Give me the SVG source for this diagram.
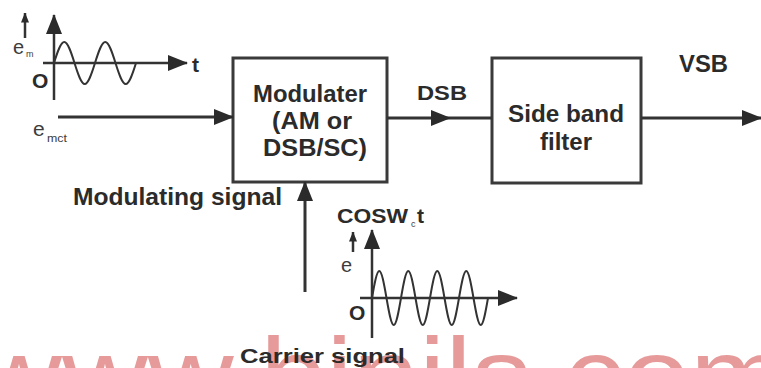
<svg xmlns="http://www.w3.org/2000/svg" width="761" height="368" viewBox="0 0 761 368">
<style>
.bx{fill:none;stroke:#3a3a3a;stroke-width:3}
.ln{fill:none;stroke:#333;stroke-width:3}
.ax{fill:none;stroke:#333;stroke-width:2.5}
.wv{fill:none;stroke:#333;stroke-width:2}
.t{font-family:"Liberation Sans",Arial,sans-serif;font-weight:bold;fill:#2b2b2b}
.n{font-family:"Liberation Sans",Arial,sans-serif;fill:#3c3c3c}
.wm{font-family:"Liberation Sans",Arial,sans-serif;fill:#e69a9a}
</style>
<defs>
<marker id="ah" viewBox="0 0 20 16" refX="19" refY="8" markerWidth="20" markerHeight="16" orient="auto" markerUnits="userSpaceOnUse"><path d="M0 0L20 8L0 16z" fill="#2b2b2b"/></marker>
<marker id="as" viewBox="0 0 10 8" refX="9.5" refY="4" markerWidth="10" markerHeight="8" orient="auto" markerUnits="userSpaceOnUse"><path d="M0 0L10 4L0 8z" fill="#2b2b2b"/></marker>
</defs>
<rect width="761" height="368" fill="#fff"/>
<text class="wm" x="-24" y="412" font-size="106" textLength="813" lengthAdjust="spacingAndGlyphs">www.binils.com</text>

<g id="modulating-graph">
<line class="ax" x1="54" y1="100" x2="54" y2="15" marker-end="url(#ah)"/>
<line class="ax" x1="43" y1="63" x2="187" y2="63" marker-end="url(#ah)"/>
<line class="ax" x1="25" y1="38" x2="25" y2="13" marker-end="url(#as)"/>
<path class="wv" d="M54 63c3.34,-10.75 6.755,-21 10.25,-21s6.91,10.25 10.25,21s6.755,21 10.25,21s6.91,-10.25 10.25,-21s6.755,-21 10.25,-21s6.91,10.25 10.25,21s6.755,21 10.25,21s6.91,-10.25 10.25,-21"/>
<text class="n" x="13" y="54" font-size="20">e</text>
<text class="n" x="26" y="57" font-size="9">m</text>
<text class="t" x="32" y="88" font-size="21">O</text>
<text class="t" x="192" y="72" font-size="21">t</text>
</g>

<g id="modulator">
<rect class="bx" x="233" y="58" width="154" height="124"/>
<text class="t" x="253" y="102" font-size="23" textLength="114" lengthAdjust="spacingAndGlyphs">Modulater</text>
<text class="t" x="272" y="129" font-size="23" textLength="80" lengthAdjust="spacingAndGlyphs">(AM or</text>
<text class="t" x="263" y="156" font-size="23" textLength="104" lengthAdjust="spacingAndGlyphs">DSB/SC)</text>
</g>

<g id="sideband-filter">
<rect class="bx" x="492" y="58" width="149" height="125"/>
<text class="t" x="508" y="122" font-size="23" textLength="116" lengthAdjust="spacingAndGlyphs">Side band</text>
<text class="t" x="540" y="150" font-size="23" textLength="52" lengthAdjust="spacingAndGlyphs">filter</text>
</g>

<g id="carrier-graph">
<line class="ax" x1="372" y1="338" x2="372" y2="230" marker-end="url(#ah)"/>
<line class="ax" x1="360" y1="298" x2="517" y2="298" marker-end="url(#ah)"/>
<line class="ax" x1="353" y1="252" x2="353" y2="232" marker-end="url(#as)"/>
<path class="wv" d="M372 298c2.363,-13.82 4.778,-27 7.25,-27s4.887,13.18 7.25,27s4.778,27 7.25,27s4.887,-13.18 7.25,-27s4.778,-27 7.25,-27s4.887,13.18 7.25,27s4.778,27 7.25,27s4.887,-13.18 7.25,-27s4.778,-27 7.25,-27s4.887,13.18 7.25,27s4.778,27 7.25,27s4.887,-13.18 7.25,-27s4.778,-27 7.25,-27s4.887,13.18 7.25,27s4.778,27 7.25,27s4.887,-13.18 7.25,-27"/>
<text class="t" x="337" y="223" font-size="21" textLength="71" lengthAdjust="spacingAndGlyphs">COSW</text>
<text class="n" x="411" y="227" font-size="9">c</text>
<text class="t" x="417" y="223" font-size="21">t</text>
<text class="n" x="341" y="272" font-size="20">e</text>
<text class="t" x="349" y="320" font-size="21">O</text>
</g>

<g id="connectors">
<line class="ln" x1="58" y1="117" x2="233" y2="117" marker-end="url(#ah)"/>
<path class="ln" d="M387 118L450 118L492 118" marker-mid="url(#ah)"/>
<line class="ln" x1="641" y1="118" x2="761" y2="118" marker-end="url(#ah)"/>
<line class="ln" x1="305" y1="292" x2="305" y2="182" marker-end="url(#ah)"/>
</g>

<g id="labels">
<text class="n" x="33" y="136" font-size="21">e</text>
<text class="n" x="47" y="142" font-size="10" textLength="20" lengthAdjust="spacingAndGlyphs">mct</text>
<text class="t" x="417" y="100" font-size="21" textLength="50" lengthAdjust="spacingAndGlyphs">DSB</text>
<text class="t" x="679" y="72" font-size="23" textLength="49" lengthAdjust="spacingAndGlyphs">VSB</text>
<text class="t" x="73" y="205" font-size="24" textLength="209" lengthAdjust="spacingAndGlyphs">Modulating signal</text>
<text class="t" x="240" y="363" font-size="21" textLength="165" lengthAdjust="spacingAndGlyphs">Carrier signal</text>
</g>
</svg>
